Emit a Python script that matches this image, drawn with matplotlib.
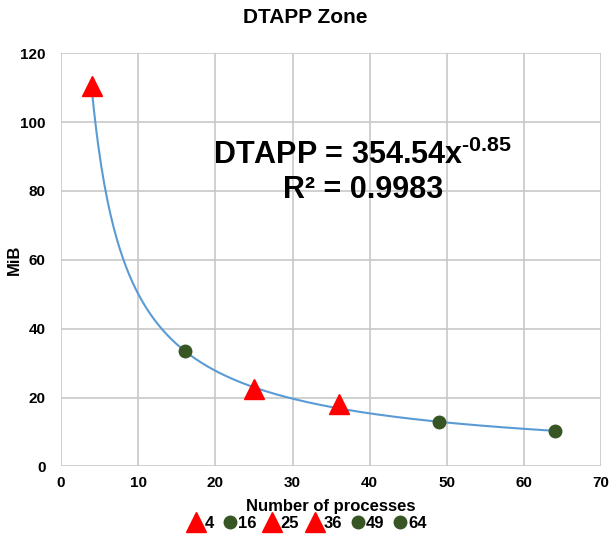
import numpy as np
import matplotlib
matplotlib.use("Agg")
import matplotlib.pyplot as plt

plt.rcParams['font.family'] = ['Liberation Sans', 'DejaVu Sans']
plt.rcParams['font.weight'] = 'bold'
plt.rcParams['mathtext.fontset'] = 'custom'
plt.rcParams['mathtext.bf'] = 'Liberation Sans:bold'
plt.rcParams['mathtext.rm'] = 'Liberation Sans:bold'
plt.rcParams['mathtext.default'] = 'bf'

# memory per process for each process count
processes = [4, 16, 25, 36, 49, 64]
mib = [110.5, 33.5, 22.5, 18.2, 12.9, 10.3]
markers = ['^', 'o', '^', '^', 'o', 'o']
colors = ['#ff0000', '#375623', '#ff0000', '#ff0000', '#375623', '#375623']
sizes = [15, 9, 15, 15, 9, 9]

# power trendline coefficients
coef_a = 354.54
coef_b = -0.85
r_squared = 0.9983

fig = plt.figure(figsize=(6.11, 5.38), dpi=100)
ax = fig.add_axes([0.1, 0.133, 0.884, 0.768])

xs = np.linspace(processes[0], processes[-1], 300)
ax.plot(xs, coef_a * xs ** coef_b, color='#5b9bd5', lw=1.5, zorder=2)

for p, m, mk, c, s in zip(processes, mib, markers, colors, sizes):
    ax.plot([p], [m], linestyle='none', marker=mk, color=c, markersize=s,
            label=str(p), zorder=3)

ax.set_xlim(0, 70)
ax.set_ylim(0, 120)
ax.set_xticks(range(0, 71, 10))
ax.set_yticks(range(0, 121, 20))
ax.grid(True, color='#c8c8c8', lw=1.2)
ax.set_axisbelow(True)
for sp in ax.spines.values():
    sp.set_visible(False)
ax.tick_params(axis='x', length=0, labelsize=11, pad=7)
ax.tick_params(axis='y', length=0, labelsize=11, pad=11)
for lab in ax.get_xticklabels() + ax.get_yticklabels():
    lab.set_fontweight('bold')

ax.set_xlabel('Number of processes', fontsize=12, fontweight='bold', labelpad=6)
ax.set_ylabel('MiB', fontsize=12, fontweight='bold')
ax.yaxis.set_label_coords(-0.072, 0.5)
fig.suptitle('DTAPP Zone', fontsize=15, fontweight='bold', x=0.5, y=0.985)

ax.text(39.1, 90.3, 'DTAPP = %.2fx$^{\\text{%.2f}}$' % (coef_a, coef_b),
        fontsize=22, fontweight='bold', ha='center', va='center')
ax.text(39.1, 80.3, 'R² = %.4f' % r_squared, fontsize=22, fontweight='bold',
        ha='center', va='center')

leg = ax.legend(loc='upper center', bbox_to_anchor=(0.455, -0.1), ncol=6,
                frameon=False, handletextpad=-0.1, columnspacing=0.35,
                handlelength=1.2, borderpad=0, prop={'weight': 'bold', 'size': 12})

fig.savefig('out.png', dpi=100)
